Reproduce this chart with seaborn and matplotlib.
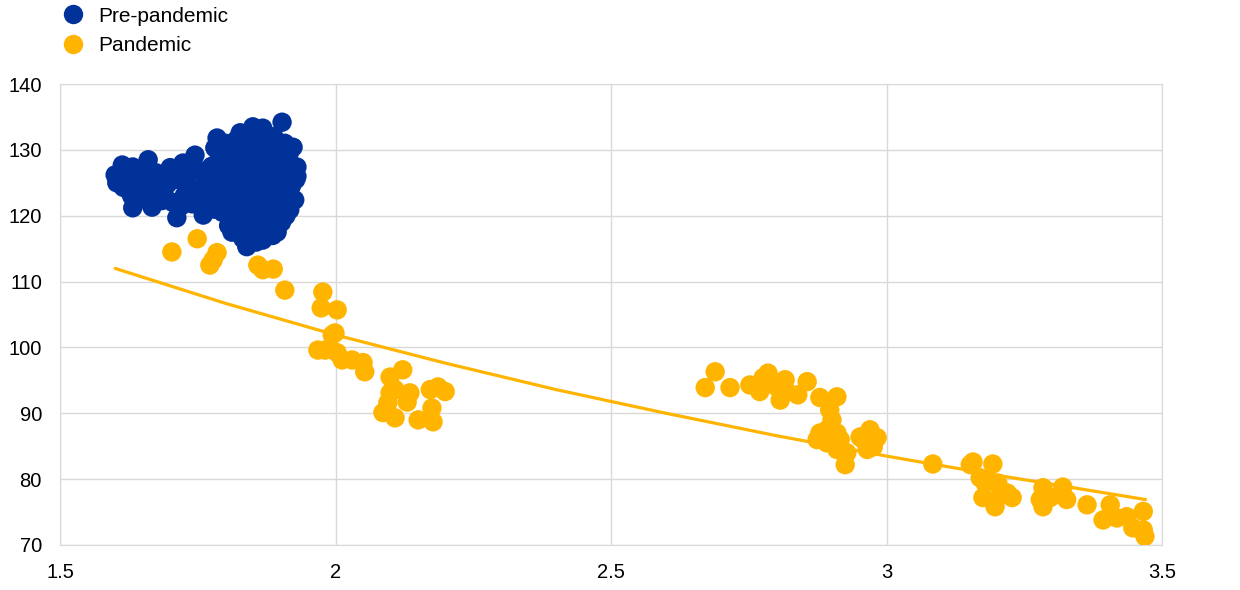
import numpy as np
import pandas as pd
import matplotlib
matplotlib.use("Agg")
import matplotlib.pyplot as plt
import seaborn as sns

pre_x = [1.600, 1.603, 1.613, 1.615, 1.625, 1.632, 1.630, 1.632, 1.645, 1.650,
         1.660, 1.655, 1.667, 1.672, 1.680, 1.685, 1.700, 1.695, 1.705, 1.712,
         1.715, 1.723, 1.725, 1.735, 1.740, 1.745, 1.750, 1.755, 1.760, 1.765,
         1.770, 1.775, 1.781, 1.785, 1.780,
         1.620, 1.640, 1.660, 1.675, 1.690, 1.710, 1.720, 1.730, 1.745, 1.760,
         1.775, 1.790,
         1.790, 1.792, 1.795, 1.798, 1.800, 1.803, 1.806, 1.808, 1.810, 1.812,
         1.815, 1.818, 1.820, 1.822, 1.825, 1.827, 1.828, 1.830, 1.832, 1.835,
         1.838, 1.839, 1.840, 1.842, 1.845, 1.848, 1.850, 1.850, 1.852, 1.855,
         1.856, 1.858, 1.860, 1.862, 1.864, 1.866, 1.868, 1.868, 1.870, 1.872,
         1.874, 1.876, 1.878, 1.880, 1.882, 1.884, 1.886, 1.888, 1.890, 1.892,
         1.894, 1.895, 1.897, 1.900, 1.902, 1.903, 1.904, 1.906, 1.908, 1.910,
         1.912, 1.914, 1.916, 1.917, 1.920, 1.922, 1.923, 1.926, 1.928, 1.930,
         1.930,
         1.800, 1.810, 1.820, 1.830, 1.840, 1.850, 1.860, 1.870, 1.880, 1.890,
         1.900, 1.910, 1.920, 1.800, 1.835, 1.855, 1.875, 1.895, 1.915, 1.785,
         1.795]
pre_y = [126.2, 125.0, 127.7, 124.3, 125.8, 127.4, 123.0, 121.2, 124.5, 126.0,
         128.5, 122.5, 121.3, 124.0, 125.5, 122.3, 127.3, 124.8, 122.0, 119.7,
         125.5, 128.0, 123.0, 126.5, 121.8, 129.2, 124.0, 126.8, 120.1, 122.8,
         125.5, 127.5, 130.3, 131.8, 121.0,
         126.0, 123.5, 125.0, 126.5, 123.0, 126.0, 121.5, 124.5, 122.5, 124.0,
         122.0, 122.0,
         128.5, 124.0, 120.5, 126.0, 131.0, 122.5, 118.5, 129.0, 125.0, 117.5,
         121.0, 127.5, 131.5, 123.5, 119.5, 132.6, 126.0, 129.5, 116.5, 121.5,
         124.5, 115.3, 130.5, 127.5, 118.5, 122.0, 133.5, 125.5, 120.0, 128.5,
         116.0, 131.5, 123.0, 126.5, 118.0, 129.8, 133.3, 116.3, 121.0, 124.5,
         127.8, 131.0, 119.0, 122.5, 126.0, 129.0, 117.0, 132.0, 120.5, 124.0,
         117.5, 127.5, 130.5, 122.0, 119.0, 134.2, 125.5, 128.5, 131.0, 120.0,
         123.0, 126.5, 129.5, 120.9, 124.5, 127.5, 130.4, 122.4, 125.5, 127.4,
         126.0,
         127.5, 121.0, 125.0, 122.5, 128.5, 118.5, 121.5, 119.0, 128.5, 125.5,
         127.0, 125.0, 126.0, 124.5, 119.0, 124.0, 130.0, 121.5, 122.0, 128.0,
         130.0]

# pandemic observations
pan_x = [1.703, 1.749, 1.785, 1.772, 1.778, 1.859, 1.868, 1.887, 1.908, 1.977,
         1.974, 2.003, 1.999, 1.994, 1.968, 1.981, 2.003, 2.012, 2.030, 2.050,
         2.053, 2.122, 2.099, 2.108, 2.135, 2.095, 2.086, 2.108, 2.099, 2.130,
         2.172, 2.186, 2.199, 2.175, 2.150, 2.177,
         2.671, 2.689, 2.716, 2.752, 2.770, 2.785, 2.776, 2.801, 2.807, 2.816,
         2.819, 2.839, 2.856, 2.879, 2.910, 2.897, 2.901, 2.879, 2.874, 2.892,
         2.910, 2.916, 2.892, 2.910, 2.928, 2.925, 2.952, 2.970, 2.983, 2.976,
         2.965, 2.958,
         3.084, 3.157, 3.152, 3.193, 3.170, 3.179, 3.202, 3.175, 3.197, 3.206,
         3.228, 3.219, 3.284, 3.279, 3.284, 3.297, 3.320, 3.327, 3.364, 3.406,
         3.393, 3.418, 3.436, 3.466, 3.447, 3.466, 3.469]
pan_y = [114.5, 116.5, 114.4, 112.5, 113.3, 112.5, 111.8, 111.9, 108.7, 108.4,
         106.0, 105.7, 102.2, 101.9, 99.6, 99.6, 99.2, 98.1, 98.1, 97.7,
         96.3, 96.6, 95.5, 93.6, 93.1, 91.6, 90.1, 89.3, 93.1, 91.7,
         93.6, 94.0, 93.3, 90.8, 89.0, 88.7,
         93.9, 96.3, 93.9, 94.3, 93.3, 96.1, 95.4, 94.0, 92.0, 95.1,
         93.3, 92.8, 94.8, 92.4, 92.5, 90.5, 89.0, 87.0, 86.0, 87.5,
         87.0, 86.0, 85.5, 84.5, 84.0, 82.2, 86.4, 87.5, 86.3, 84.9,
         84.5, 86.0,
         82.3, 82.6, 82.2, 82.3, 80.2, 79.4, 79.4, 77.2, 75.8, 77.6,
         77.2, 77.9, 78.7, 76.9, 75.8, 77.2, 78.8, 76.9, 76.1, 76.1,
         73.8, 74.1, 74.3, 75.1, 72.6, 72.3, 71.3]

# fitted curve, points
fit_x = [1.60, 1.80, 2.00, 2.20, 2.40, 2.60, 2.80, 3.00, 3.20, 3.47]
fit_y = [112.0, 106.7, 101.9, 97.6, 93.6, 90.0, 86.6, 83.5, 80.6, 76.9]

df = pd.DataFrame({
    "x": pre_x + pan_x,
    "y": pre_y + pan_y,
    "period": ["Pre-pandemic"] * len(pre_x) + ["Pandemic"] * len(pan_x),
})
fit = pd.DataFrame({"x": fit_x, "y": fit_y})

sns.set_style("white")
plt.rcParams["font.family"] = ["Liberation Sans", "DejaVu Sans"]
plt.rcParams["text.color"] = "black"

blue = "#003299"
yellow = "#FFB400"

fig = plt.figure(figsize=(12.4, 5.9), dpi=100)
ax = fig.add_axes([0.0484, 0.0763, 0.8887, 0.7813])

sns.lineplot(data=fit, x="x", y="y", color=yellow, linewidth=2.3, ax=ax, zorder=2)
sns.scatterplot(data=df, x="x", y="y", hue="period",
                palette={"Pre-pandemic": blue, "Pandemic": yellow},
                s=195, linewidth=0, alpha=1, ax=ax, zorder=3)

ax.set_xlim(1.5, 3.5)
ax.set_ylim(70, 140)
ax.set_xticks([1.5, 2, 2.5, 3, 3.5])
ax.set_xticklabels(["1.5", "2", "2.5", "3", "3.5"])
ax.set_yticks(range(70, 141, 10))
ax.set_xlabel("")
ax.set_ylabel("")
ax.grid(True, color="#d9d9d9", linewidth=1)
ax.set_axisbelow(True)
for sp in ax.spines.values():
    sp.set_color("#d9d9d9")
ax.tick_params(axis="both", length=0, labelsize=14.5, colors="black", pad=13)

handles, labels = ax.get_legend_handles_labels()
leg = ax.legend(handles, labels, loc="upper left", bbox_to_anchor=(0.035, 1.003),
                bbox_transform=fig.transFigure, frameon=False, fontsize=15,
                markerscale=1.0, handletextpad=0.25, labelspacing=0.5,
                borderaxespad=0)
for t in leg.get_texts():
    t.set_color("black")

fig.savefig("out.png", dpi=100)
